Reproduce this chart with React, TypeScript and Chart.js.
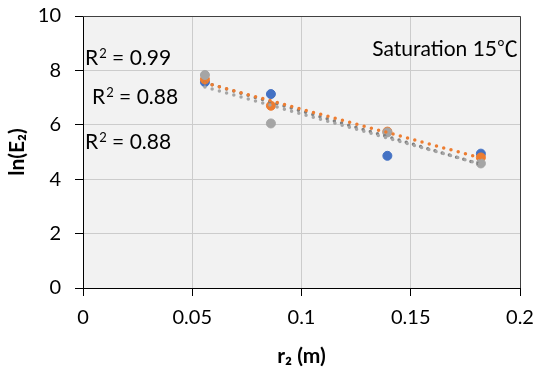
import React, { useEffect, useRef } from "react";
import { Chart, registerables } from "chart.js";

Chart.register(...registerables);

// ---- data ----
const xValues = [0.0558, 0.086, 0.1393, 0.1821];
const blueValues = [7.57, 7.13, 4.86, 4.94];
const orangeValues = [7.67, 6.7, 5.75, 4.8];
const greyValues = [7.83, 6.05, 5.72, 4.58];
const r2Values = ["0.99", "0.88", "0.88"];
const noteLabel = "Saturation 15";
const noteUnit = "℃";
const xTickLabels = ["0", "0.05", "0.1", "0.15", "0.2"];
const yTickLabels = ["0", "2", "4", "6", "8", "10"];

const FONT = "Lato, 'Open Sans', sans-serif";

function linearFit(xs: number[], ys: number[]) {
  const n = xs.length;
  const mx = xs.reduce((a, b) => a + b, 0) / n;
  const my = ys.reduce((a, b) => a + b, 0) / n;
  let sxy = 0, sxx = 0;
  for (let i = 0; i < n; i++) {
    sxy += (xs[i] - mx) * (ys[i] - my);
    sxx += (xs[i] - mx) * (xs[i] - mx);
  }
  const slope = sxy / sxx;
  const icpt = my - slope * mx;
  const x0 = Math.min(...xs);
  const x1 = Math.max(...xs);
  return [
    { x: x0, y: icpt + slope * x0 },
    { x: x1, y: icpt + slope * x1 },
  ];
}

const pts = (ys: number[]) => xValues.map((x, i) => ({ x, y: ys[i] }));

function drawR2(ctx: CanvasRenderingContext2D, value: string, x: number, y: number) {
  ctx.textAlign = "left";
  ctx.font = `21px ${FONT}`;
  ctx.fillText("R", x, y);
  let cx = x + ctx.measureText("R").width + 1;
  ctx.font = `13px ${FONT}`;
  ctx.fillText("2", cx, y - 7);
  cx += ctx.measureText("2").width;
  ctx.font = `21px ${FONT}`;
  ctx.fillText(" = " + value, cx, y);
}

export default function App() {
  const ref = useRef<HTMLCanvasElement>(null);
  useEffect(() => {
    if (!ref.current) return;
    const bgPlugin = {
      id: "bg",
      beforeDraw(chart: any) {
        const { ctx, chartArea: a } = chart;
        ctx.save();
        ctx.fillStyle = "#ffffff";
        ctx.fillRect(0, 0, chart.width, chart.height);
        ctx.fillStyle = "#f2f2f2";
        ctx.fillRect(a.left, a.top, a.right - a.left, a.bottom - a.top);
        ctx.restore();
      },
      afterDraw(chart: any) {
        const { ctx, chartArea: a } = chart;
        ctx.save();
        ctx.strokeStyle = "#404040";
        ctx.lineWidth = 1;
        ctx.beginPath();
        ctx.moveTo(a.left, a.top + 0.5);
        ctx.lineTo(a.right + 0.5, a.top + 0.5);
        ctx.lineTo(a.right + 0.5, a.bottom);
        ctx.stroke();
        ctx.fillStyle = "#000000";
        ctx.textBaseline = "alphabetic";
        drawR2(ctx, r2Values[0], a.left + 2, a.top + 49);
        drawR2(ctx, r2Values[1], a.left + 9, a.top + 88);
        drawR2(ctx, r2Values[2], a.left + 2, a.top + 133);
        ctx.font = `21px 'Noto Sans CJK SC', sans-serif`;
        const uw = ctx.measureText(noteUnit).width;
        ctx.textAlign = "right";
        ctx.fillText(noteUnit, a.right - 2, a.top + 40);
        ctx.font = `21px ${FONT}`;
        ctx.fillText(noteLabel, a.right - 2 - uw, a.top + 40);
        ctx.restore();
      },
    };
    const dotted = (color: string) => ({
      type: "line" as const,
      borderColor: color,
      borderWidth: 3.5,
      borderDash: [0, 7.5],
      borderCapStyle: "round" as const,
      pointRadius: 0,
      showLine: true,
      fill: false,
    });
    const noPad = (s: any) => {
      s.paddingTop = 0;
      s.paddingBottom = 0;
      s.paddingLeft = 0;
      s.paddingRight = 0;
    };
    const chart = new Chart(ref.current, {
      type: "scatter",
      data: {
        datasets: [
          { label: "blue", data: pts(blueValues), backgroundColor: "#4472C4", borderColor: "#4472C4", pointRadius: 4.5, order: 6 },
          { label: "orange", data: pts(orangeValues), backgroundColor: "#ED7D31", borderColor: "#ED7D31", pointRadius: 4.5, order: 5 },
          { label: "grey", data: pts(greyValues), backgroundColor: "#A5A5A5", borderColor: "#A5A5A5", pointRadius: 4.5, order: 4 },
          { label: "blue fit", data: linearFit(xValues, blueValues), ...dotted("#7f7f7f"), order: 3 },
          { label: "orange fit", data: linearFit(xValues, orangeValues), ...dotted("#ED7D31"), order: 2 },
          { label: "grey fit", data: linearFit(xValues, greyValues), ...dotted("#a5a5a5"), order: 1 },
        ] as any,
      },
      options: {
        animation: false,
        responsive: false,
        devicePixelRatio: 1,
        layout: { padding: { top: 16, right: 18, left: 0, bottom: 0 } },
        plugins: { legend: { display: false }, tooltip: { enabled: false } },
        scales: {
          x: {
            type: "linear",
            min: 0,
            max: 0.2,
            afterFit(s: any) { s.height = 84; noPad(s); },
            afterBuildTicks(s: any) {
              s.ticks = xTickLabels.map((t) => ({ value: parseFloat(t) }));
            },
            ticks: {
              padding: 10,
              color: "#000000",
              font: { family: FONT, size: 20 },
              callback: (_v: any, i: number) => xTickLabels[i],
            },
            grid: { color: "#cccccc", lineWidth: 1, tickColor: "#000000", tickLength: 8 },
            border: { color: "#000000", width: 1 },
            title: {
              display: true,
              text: "r₂ (m)",
              color: "#000000",
              font: { family: FONT, size: 21, weight: "bold" },
              padding: { top: 0, bottom: 3 },
            },
          },
          y: {
            type: "linear",
            min: 0,
            max: 10,
            afterFit(s: any) { s.width = 83; noPad(s); },
            afterBuildTicks(s: any) {
              s.ticks = yTickLabels.map((t) => ({ value: parseFloat(t) }));
            },
            ticks: {
              padding: 14,
              color: "#000000",
              font: { family: FONT, size: 20 },
              callback: (_v: any, i: number) => yTickLabels[i],
            },
            grid: { color: "#cccccc", lineWidth: 1, tickColor: "#000000", tickLength: 8 },
            border: { color: "#000000", width: 1 },
            title: {
              display: true,
              text: "ln(E₂)",
              color: "#000000",
              font: { family: FONT, size: 21, weight: "bold" },
              padding: { top: 5, bottom: 0 },
            },
          },
        },
      },
      plugins: [bgPlugin],
    } as any);
    return () => chart.destroy();
  }, []);
  return (
    <div style={{ position: "fixed", left: 0, top: 0, width: 538, height: 372, background: "#fff" }}>
      <canvas ref={ref} width={538} height={372} style={{ width: 538, height: 372, display: "block" }} />
    </div>
  );
}
